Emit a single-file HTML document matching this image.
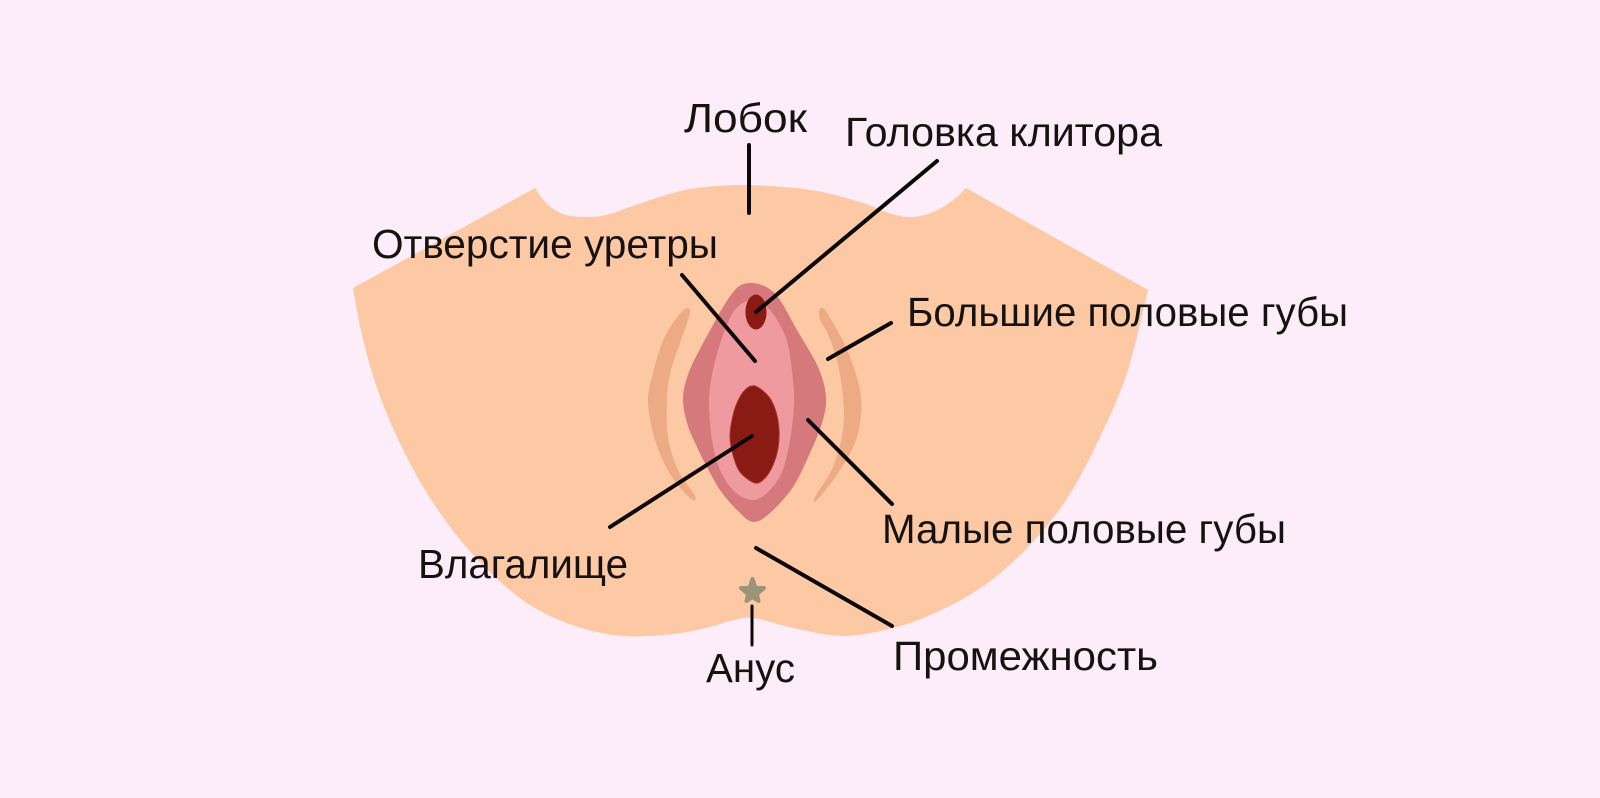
<!DOCTYPE html>
<html lang="ru">
<head>
<meta charset="utf-8">
<title>Анатомическая схема</title>
<style>
html,body{margin:0;padding:0;background:#fdedf9;width:1600px;height:798px;overflow:hidden}
svg{display:block}
text{font-family:"Liberation Sans","DejaVu Sans",sans-serif;font-size:41px;fill:#171212}
.leader{stroke:#0c0808;stroke-width:4;stroke-linecap:round;fill:none}
</style>
</head>
<body>
<svg width="1600" height="798" viewBox="0 0 1600 798">
  <rect width="1600" height="798" fill="#fdedf9"/>

  <path id="body" fill="#fdc8a4"/>
  <path id="foldL" fill="#ecab85"/>
  <path id="foldR" fill="#ecab85"/>
  <path id="outer" fill="#d5797c"/>
  <path id="inner" fill="#ee9a9e"/>
  <path id="opening" fill="#8a1a14" stroke="#a5352e" stroke-width="1"/>
  <ellipse cx="756" cy="312" rx="10.5" ry="17.5" fill="#8a1a14"/>

  <path fill="#9c9478" stroke="#9c9478" stroke-width="4" stroke-linejoin="round" d="M752.5 579 L755.5 588 L764 588 L757 594 L758.5 601 L752.5 597 L746.5 601 L748 594 L741 588 L749.5 588 Z"/>

  <line class="leader" x1="749" y1="145" x2="749" y2="213"/>
  <line class="leader" x1="937" y1="161" x2="756" y2="312"/>
  <line class="leader" x1="682" y1="275" x2="755" y2="361"/>
  <line class="leader" x1="891" y1="323" x2="828" y2="359"/>
  <line class="leader" x1="808" y1="420" x2="892" y2="504"/>
  <line class="leader" x1="752" y1="436" x2="610" y2="527"/>
  <line class="leader" x1="756" y1="548" x2="892" y2="626"/>
  <line class="leader" x1="752" y1="606" x2="752" y2="645" style="stroke-width:3"/>

  <text x="684" y="132" textLength="123" lengthAdjust="spacingAndGlyphs">Лобок</text>
  <text x="845" y="146" textLength="317" lengthAdjust="spacingAndGlyphs">Головка клитора</text>
  <text x="372" y="258" textLength="346" lengthAdjust="spacingAndGlyphs">Отверстие уретры</text>
  <text x="907" y="326" textLength="441" lengthAdjust="spacingAndGlyphs">Большие половые губы</text>
  <text x="882" y="543" textLength="404" lengthAdjust="spacingAndGlyphs">Малые половые губы</text>
  <text x="418" y="578" textLength="210" lengthAdjust="spacingAndGlyphs">Влагалище</text>
  <text x="893" y="670" textLength="265" lengthAdjust="spacingAndGlyphs">Промежность</text>
  <text x="706" y="682" textLength="89" lengthAdjust="spacingAndGlyphs">Анус</text>
</svg>
<script>
var bodyTop=[[535,188],[547,204],[563,214],[584,217],[606,215],[630,207],[660,197],[696,188],[748,185],[811,190],[860,202],[883,211],[900,216],[912,217],[928,214],[943,207],[957,197],[966,188]];
var bodyBottom=[[1148,290],[1127,373],[1100,437],[1068,497],[1030,545],[985,585],[937,612],[893,628],[843,636],[793,628],[753,618],[730,621],[710,627],[673,634],[623,636],[575,626],[530,605],[493,575],[458,537],[425,490],[397,437],[376,385],[362,335],[353,288]];
var foldLeft=[[685,309],[690,310],[688,320],[680,343],[671,370],[667,397],[668,437],[678,470],[695,496],[690,498],[670,474],[655,440],[648,403],[652,377],[662,343],[673,323]];
var foldRight=[[824,309],[837,330],[850,357],[861,397],[857,437],[840,470],[818,499],[815,497],[833,467],[843,430],[843,397],[837,360],[827,332],[821,322],[819,311]];
var outerLip=[[753,283],[738,287],[723,307],[712,327],[701,347],[689,372],[683,397],[687,423],[697,447],[707,467],[720,490],[737,510],[753,522],[770,513],[793,487],[810,453],[822,423],[826,397],[818,367],[797,330],[780,300],[768,288]];
var innerLip=[[753,300],[740,305],[730,318],[718,350],[711,380],[709,405],[712,440],[720,470],[735,492],[753,500],[768,492],[782,472],[790,440],[794,405],[793,380],[788,345],[780,325],[768,308]];
var openingEdge=[[755,386],[745,390],[737,403],[732,420],[730,437],[733,455],[740,472],[755,483],[765,478],[773,465],[778,448],[779,430],[776,412],[769,397]];

function segment(p){
  var s='';
  for(var i=0;i<p.length-1;i++){
    var a=p[Math.max(i-1,0)],b=p[i],c=p[i+1],d=p[Math.min(i+2,p.length-1)];
    s+=' C'+(b[0]+(c[0]-a[0])/6)+' '+(b[1]+(c[1]-a[1])/6)+' '+(c[0]-(d[0]-b[0])/6)+' '+(c[1]-(d[1]-b[1])/6)+' '+c[0]+' '+c[1];
  }
  return s;
}
function closed(p){
  var n=p.length,s='M'+p[0][0]+' '+p[0][1];
  for(var i=0;i<n;i++){
    var a=p[(i-1+n)%n],b=p[i],c=p[(i+1)%n],d=p[(i+2)%n];
    s+=' C'+(b[0]+(c[0]-a[0])/6)+' '+(b[1]+(c[1]-a[1])/6)+' '+(c[0]-(d[0]-b[0])/6)+' '+(c[1]-(d[1]-b[1])/6)+' '+c[0]+' '+c[1];
  }
  return s+' Z';
}
document.getElementById('body').setAttribute('d','M353 288 L535 188'+segment(bodyTop)+' L1148 290'+segment(bodyBottom)+' Z');
document.getElementById('foldL').setAttribute('d',closed(foldLeft));
document.getElementById('foldR').setAttribute('d',closed(foldRight));
document.getElementById('outer').setAttribute('d',closed(outerLip));
document.getElementById('inner').setAttribute('d',closed(innerLip));
document.getElementById('opening').setAttribute('d',closed(openingEdge));
</script>
</body>
</html>
